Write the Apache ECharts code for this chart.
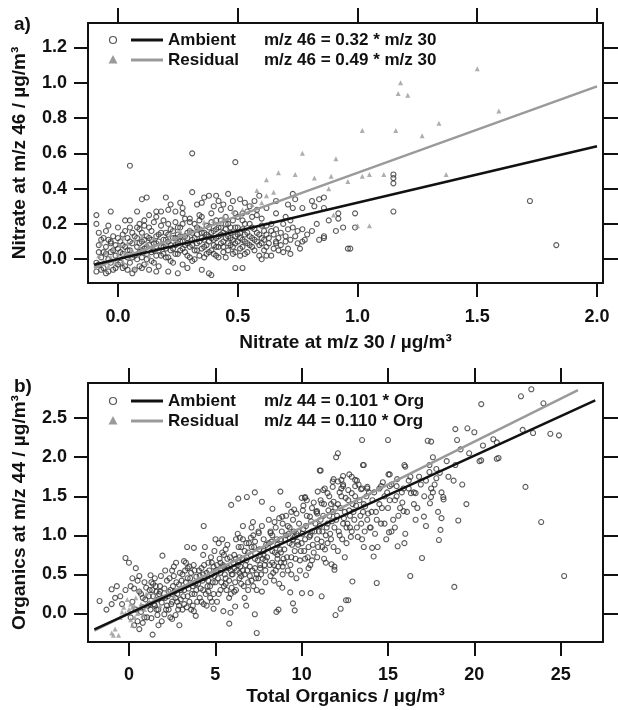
<!DOCTYPE html>
<html>
<head>
<meta charset="utf-8">
<script src="https://cdn.jsdelivr.net/npm/echarts@6/dist/echarts.min.js"></script>
<style>
  html, body { margin: 0; padding: 0; background: #fff; }
  #chart { width: 618px; height: 710px; }
</style>
</head>
<body>
<div id="chart"></div>
<script>
// ---- Panel a: nitrate signal at m/z 46 versus m/z 30 ----
const ambientA = [
  [-0.09,0.25],[-0.09,0.20],[-0.03,0.27],[-0.04,0.19],[0.05,0.53],[0.10,0.34],[0.12,0.35],[0.20,0.35],
  [0.31,0.38],[0.36,0.35],[0.38,0.36],[0.41,0.36],[0.46,0.37],[0.35,0.32],[0.26,0.32],[0.18,0.27],
  [0.16,0.27],[0.21,0.28],[0.24,0.27],[0.27,0.26],[0.11,0.22],[0.09,0.20],[0.03,0.22],[0.05,0.18],
  [0.00,0.18],[-0.05,0.16],[-0.07,0.11],[-0.03,0.09],[-0.08,0.04],[-0.09,-0.02],[-0.04,-0.07],[-0.01,-0.05],
  [0.04,-0.06],[0.10,-0.05],[0.16,-0.07],[0.21,-0.07],[0.25,-0.08],[0.29,-0.05],[0.35,-0.06],[0.39,-0.09],
  [0.52,-0.05],[0.51,0.34],[0.53,0.32],[0.59,0.36],[0.43,0.28],[0.47,0.29],[0.39,0.26],[0.34,0.25],
  [0.30,0.23],[0.41,0.22],[0.45,0.24],[0.49,0.26],[0.52,0.22],[0.56,0.24],[0.60,0.23],[0.62,0.19],
  [0.64,0.16],[0.61,0.11],[0.66,0.10],[0.67,0.05],[0.64,0.02],[0.60,0.00],[0.71,0.06],[0.75,0.09],
  [0.78,0.11],[0.81,0.16],[0.75,0.16],[0.73,0.18],[0.73,0.37],[0.71,0.31],[0.73,0.29],[0.74,0.34],
  [0.81,0.33],[0.84,0.34],[0.86,0.35],[0.84,0.11],[0.86,0.12],[0.91,0.16],[0.92,0.26],[0.96,0.06],
  [0.99,0.18],[0.66,0.33],[0.77,0.29],[0.82,0.30],[0.86,0.29],[0.92,0.23],[0.94,0.18],[0.99,0.26],
  [0.72,0.22],[0.77,0.17],[0.86,0.13],[0.77,0.10],[0.72,0.11],[0.66,0.09],[0.62,0.02],[0.52,0.07],
  [0.97,0.06],[1.15,0.27],[1.15,0.43],[1.15,0.48],[1.15,0.46],[1.72,0.33],[1.83,0.08],[0.31,0.60],
  [0.49,0.55],[0.49,-0.05],[0.38,-0.08],
  [-0.09,-0.07],[-0.08,-0.03],[-0.07,0.01],[-0.06,-0.05],[-0.05,0.03],[-0.05,0.07],[-0.04,0.00],[-0.03,-0.02],
  [-0.02,0.05],[-0.02,0.13],[-0.01,0.02],[-0.06,0.12],[-0.08,0.08],[-0.03,0.10],
  [0.00,0.06],[0.01,-0.02],[0.01,0.10],[0.02,0.03],[0.02,0.14],[0.03,-0.04],[0.03,0.07],[0.04,0.01],
  [0.04,0.12],[0.05,0.05],[0.05,-0.02],[0.06,0.09],[0.06,0.15],[0.07,0.02],[0.07,-0.06],[0.08,0.07],
  [0.08,0.12],[0.09,0.04],[0.09,0.17],[0.10,0.01],[0.10,0.10],
  [0.11,0.06],[0.11,-0.03],[0.12,0.13],[0.12,0.03],[0.13,0.18],[0.13,0.08],[0.14,-0.01],[0.14,0.11],
  [0.15,0.05],[0.15,0.21],[0.16,0.09],[0.16,0.02],[0.17,0.14],[0.17,-0.04],[0.18,0.07],[0.18,0.19],
  [0.19,0.11],[0.19,0.03],[0.20,0.15],[0.20,0.06],
  [0.21,0.10],[0.21,0.01],[0.22,0.17],[0.22,0.05],[0.23,0.12],[0.23,-0.02],[0.24,0.08],[0.24,0.21],
  [0.25,0.14],[0.25,0.03],[0.26,0.10],[0.26,0.18],[0.27,0.06],[0.27,-0.03],[0.28,0.13],[0.28,0.23],
  [0.29,0.09],[0.29,0.02],[0.30,0.16],[0.30,0.07],
  [0.31,0.11],[0.31,-0.01],[0.32,0.20],[0.32,0.05],[0.33,0.14],[0.33,0.09],[0.34,0.02],[0.34,0.17],
  [0.35,0.12],[0.35,0.24],[0.36,0.07],[0.36,0.15],[0.37,0.03],[0.37,0.19],[0.38,0.10],[0.38,0.13],
  [0.39,0.05],[0.39,0.21],[0.40,0.16],[0.40,0.08],
  [0.41,0.12],[0.41,0.02],[0.42,0.18],[0.42,0.07],[0.43,0.14],[0.43,0.22],[0.44,0.04],[0.44,0.10],
  [0.45,0.17],[0.45,0.01],[0.46,0.13],[0.46,0.20],[0.47,0.08],[0.47,0.15],[0.48,0.11],[0.48,0.03],
  [0.49,0.18],[0.49,0.09],[0.50,0.14],[0.50,0.24],
  [0.51,0.06],[0.51,0.12],[0.52,0.17],[0.53,0.10],[0.53,0.03],[0.54,0.15],[0.55,0.08],[0.55,0.20],
  [0.56,0.12],[0.57,0.05],[0.57,0.17],[0.58,0.10],[0.59,0.14],[0.59,0.02],[0.60,0.09],[0.61,0.16],
  [0.62,0.07],[0.63,0.12],[0.65,0.14],[0.68,0.08],[0.70,0.13],[0.69,0.20],
  [0.55,0.30],[0.57,0.33],[0.54,0.27],[0.48,0.33],[0.44,0.31],[0.40,0.30],
  [-0.08,0.15],[-0.07,-0.06],[-0.06,0.04],[-0.05,-0.08],[-0.04,0.11],[-0.03,0.04],[-0.02,-0.06],[-0.01,0.08],
  [0.00,-0.03],[0.00,0.12],[0.01,0.04],[0.02,0.08],[0.02,-0.05],[0.03,0.16],[0.04,0.05],[0.05,0.10],
  [0.05,0.22],[0.06,0.01],[0.06,-0.08],[0.07,0.13],[0.08,0.00],[0.08,0.18],[0.09,0.09],[0.09,-0.04],
  [0.10,0.15],[0.10,0.05],[0.11,0.11],[0.11,0.19],[0.12,0.00],[0.12,0.07],[0.13,0.12],[0.13,-0.06],
  [0.14,0.16],[0.14,0.04],[0.15,0.09],[0.15,-0.02],[0.16,0.13],[0.16,0.24],[0.17,0.05],[0.17,0.10],
  [0.18,0.02],[0.18,0.15],[0.19,0.07],[0.19,0.22],[0.20,0.11],[0.20,0.01],[0.21,0.14],[0.21,0.20],
  [0.22,0.08],[0.22,-0.01],[0.23,0.16],[0.23,0.06],[0.24,0.12],[0.24,0.03],[0.25,0.18],[0.25,0.09],
  [0.26,0.05],[0.26,0.13],[0.27,0.10],[0.27,0.20],[0.28,0.04],[0.28,0.08],[0.29,0.15],[0.29,0.12],
  [0.30,0.01],[0.30,0.21],[0.31,0.08],[0.31,0.15],[0.32,0.12],[0.32,0.00],[0.33,0.18],[0.33,0.05],
  [0.34,0.10],[0.34,0.22],[0.35,0.06],[0.35,0.15],[0.36,0.11],[0.36,0.01],[0.37,0.14],[0.37,0.08],
  [0.38,0.18],[0.38,0.04],[0.39,0.12],[0.39,0.15],[0.40,0.03],[0.40,0.11],[0.41,0.17],[0.41,0.07],
  [0.42,0.13],[0.42,0.01],[0.43,0.09],[0.43,0.18],[0.44,0.15],[0.44,0.07],[0.45,0.12],[0.45,0.20],
  [0.46,0.05],[0.46,0.09],[0.47,0.18],[0.47,0.12],[0.48,0.07],[0.48,0.22],[0.49,0.13],[0.49,0.04],
  [0.50,0.10],[0.50,0.18],[0.51,0.15],[0.51,0.02],[0.52,0.11],[0.52,0.26],[0.53,0.14],[0.53,0.20],
  [0.54,0.09],[0.54,0.04],[0.55,0.13],[0.56,0.18],[0.56,0.07],[0.57,0.11],[0.58,0.15],[0.58,0.25],
  [0.59,0.08],[0.60,0.12],[0.60,0.19],[0.61,0.05],[0.62,0.14],[0.63,0.09],[0.64,0.20],[0.65,0.06],
  [0.66,0.17],[0.67,0.12],[0.68,0.15],[0.69,0.04],[0.70,0.10],[0.71,0.17],[0.72,0.03],[0.74,0.13],
  [0.76,0.06],[0.79,0.14],[0.83,0.20],[0.88,0.22],[0.27,0.29],[0.22,0.31],[0.13,0.25],[0.08,0.27],
  [0.33,0.31],[0.42,0.33],[0.58,0.28],[0.62,0.29],[0.66,0.26],[0.70,0.24]
];
const residualA = [
  [1.18,1.00],[1.17,0.94],[1.21,0.93],[1.50,1.08],[1.59,0.84],[1.02,0.73],[1.16,0.73],[1.27,0.70],
  [1.34,0.77],[0.77,0.60],[0.91,0.57],[0.62,0.45],[0.67,0.49],[0.74,0.48],[0.82,0.46],[0.89,0.47],
  [0.96,0.44],[1.02,0.47],[1.05,0.48],[1.11,0.48],[1.37,0.48],[1.00,0.19],[1.05,0.19],[0.90,0.25],
  [0.88,0.40],[0.58,0.39],
  [-0.09,-0.03],[-0.08,0.02],[-0.06,-0.01],[-0.05,0.04],[-0.04,-0.04],[-0.03,0.01],[-0.02,0.06],[-0.01,-0.02],
  [0.00,0.03],[0.01,0.08],[0.02,-0.01],[0.03,0.04],[0.04,0.09],[0.05,0.01],[0.06,0.05],[0.07,0.11],
  [0.08,0.03],[0.09,0.07],[0.10,0.13],[0.11,0.04],[0.12,0.09],[0.13,0.02],[0.14,0.07],[0.15,0.12],
  [0.16,0.05],[0.18,0.10],[0.20,0.08],[0.22,0.14],[0.24,0.11],[0.26,0.16],[0.28,0.13],[0.30,0.17],
  [0.33,0.19],[0.36,0.21],[0.40,0.22],[0.44,0.24],[0.48,0.27],[0.52,0.28],[0.56,0.31],[0.60,0.32],
  [0.62,0.36],[0.65,0.38],[0.07,-0.05],[0.12,-0.02],[-0.07,0.09],[0.02,0.12]
];
const slopeAmbientA = 0.32;
const slopeResidualA = 0.49;
const fitRangeA = [-0.1, 2.0];
const xTicksA = [0, 0.5, 1.0, 1.5, 2.0];
const yTicksA = [0, 0.2, 0.4, 0.6, 0.8, 1.0, 1.2];

// ---- Panel b: organics signal at m/z 44 versus total organics ----
const ambientB = [
  [22.96,1.62],[23.87,1.17],[25.2,0.48],[18.84,0.34],[19.54,1.40],[19.07,1.19],[21.3,1.98],[20.3,1.95],
  [18.22,1.46],[18.1,1.22],[17.49,1.49],[17.43,1.41],[18.04,1.07],[17.95,0.94],[17.2,1.12],[17.08,1.24],
  [16.97,0.71],[16.29,0.48],[16.33,1.54],[15.83,1.42],[15.9,1.31],[15.95,1.90],[15.53,1.72],[15.03,1.78],
  [15.56,0.86],[15.95,0.90],[15.2,1.05],[15.06,1.04],[14.35,0.39],[14.17,0.73],[14.08,0.84],[14.0,1.10],
  [13.67,1.37],[13.55,1.90],[12.94,0.41],[12.57,0.17],[12.7,0.17],[11.96,-0.02],[12.26,0.06],[12.0,2.0],
  [11.73,0.63],[11.9,0.56],[11.16,0.22],[10.52,0.26],[10.25,0.49],[10.02,0.26],[9.5,0.13],[9.6,0.04],
  [9.34,0.27],[8.88,0.33],[8.66,0.05],[8.54,0.02],[7.4,-0.25],[7.29,-0.01],[6.15,0.09],[6.79,0.10],
  [5.88,0.01],[5.81,-0.13],[5.47,0.03],[4.9,0.06],[4.33,0.12],[3.87,-0.03],[3.76,0.03],[2.92,-0.15],
  [2.5,-0.07],[1.71,-0.15],[1.37,-0.27],[2.05,-0.01],[0.8,-0.12],
  [5.92,1.39],[6.33,1.47],[6.83,1.49],[7.29,1.55],[7.7,1.43],[8.77,1.56],[8.31,1.34],[9.22,1.39],
  [10.0,1.48],[10.2,1.48],[10.07,1.32],[10.93,1.56],[11.05,1.83],[11.34,1.60],[11.5,1.54],[11.85,1.72],
  [12.1,1.69],[12.4,1.76],[12.76,1.78],[13.1,1.63],[13.44,1.59],[12.3,1.50],[11.85,1.43],[11.16,1.41],
  [10.89,1.31],[10.48,1.24],[9.57,1.33],[8.88,1.24],[8.43,1.17],[8.2,1.03],[7.52,1.03],[7.18,1.17],
  [6.6,1.12],[6.42,0.97],[7.06,0.97],[5.01,0.95],[4.33,1.12],[3.76,0.84],[3.37,0.85],[3.19,0.67],
  [2.73,0.65],[1.94,0.74],
  [23.3,2.87],[22.7,2.78],[24.0,2.69],[20.4,2.68],[19.6,2.37],[20.0,2.32],[22.8,2.35],[23.4,2.31],
  [24.4,2.30],[24.9,2.28],[21.1,2.23],[20.5,2.15],[21.4,1.99],[20.4,1.96],[19.0,2.22],[17.5,2.20],
  [17.6,2.00],[16.0,1.88],[17.4,1.81],[17.8,1.73],[16.2,1.70],[15.1,1.78],[15.0,2.22],[13.5,2.22],
  [12.1,2.05],[13.6,1.90],[11.1,1.83],[10.2,1.49],[11.25,1.58],[11.8,1.69],[12.3,1.71],[12.9,1.75],
  [13.1,1.71],[11.8,1.62],[12.4,1.63],[12.7,1.58],[13.5,1.60],[13.8,1.60],[12.9,1.54],[15.1,1.63],
  [15.5,1.63],[14.6,1.63],[16.6,1.54],[18.2,1.49],[17.6,1.55],[17.3,2.21],[18.9,2.36],[21.3,2.19],
  [-1.0,0.31],[-0.7,0.35],[-1.7,0.16],[-1.0,0.12],[-0.5,0.22],[-0.2,0.71],[0.0,0.65],[0.4,0.58],
  [0.6,0.48],[1.25,0.49],
  [0.2,0.15],[0.4,0.05],[0.5,-0.10],[0.6,0.28],[0.7,0.02],[0.8,0.20],[0.9,-0.05],[0.3,0.32],[0.9,0.40],[0.1,-0.05],
  [1.1,0.10],[1.2,0.30],[1.3,-0.06],[1.4,0.22],[1.5,0.45],[1.6,0.05],[1.7,0.18],[1.8,0.35],[1.9,-0.10],
  [1.2,0.12],[1.6,0.28],[1.9,0.14],[1.4,0.38],[1.0,0.33],
  [2.1,0.20],[2.2,0.42],[2.3,0.05],[2.4,0.30],[2.5,0.15],[2.6,0.48],[2.7,-0.02],[2.8,0.25],[2.9,0.37],
  [2.2,0.10],[2.5,0.55],[2.9,0.10],[2.3,0.28],[2.7,0.20],
  [3.0,0.30],[3.1,0.50],[3.2,0.12],[3.3,0.40],[3.4,0.22],[3.5,0.60],[3.6,0.05],[3.7,0.35],[3.8,0.25],
  [3.9,0.47],[3.2,0.30],[3.5,0.15],[3.8,0.55],[3.4,0.45],[3.0,0.18],
  [4.0,0.38],[4.1,0.20],[4.2,0.58],[4.3,0.30],[4.4,0.45],[4.5,0.10],[4.6,0.65],[4.7,0.35],[4.8,0.50],
  [4.9,0.25],[4.3,0.75],[4.5,0.52],[4.8,0.15],[4.1,0.48],[4.6,0.42],[4.9,0.60],
  [5.0,0.40],[5.1,0.62],[5.2,0.25],[5.3,0.52],[5.4,0.78],[5.5,0.35],[5.6,0.45],[5.7,0.70],[5.8,0.20],
  [5.9,0.55],[5.2,0.90],[5.5,0.60],[5.8,0.42],[5.3,0.30],[5.6,0.82],[5.95,0.33],
  [6.0,0.50],[6.1,0.75],[6.2,0.30],[6.3,0.62],[6.4,0.45],[6.5,0.85],[6.6,0.55],[6.7,0.20],[6.8,0.68],
  [6.9,0.40],[6.2,0.95],[6.5,0.38],[6.8,0.90],[6.4,0.72],[6.1,0.58],[6.7,0.50],[6.9,0.78],
  [7.0,0.60],[7.1,0.85],[7.2,0.35],[7.3,0.70],[7.4,0.50],[7.5,1.05],[7.6,0.62],[7.7,0.28],[7.8,0.80],
  [7.9,0.55],[7.2,1.00],[7.5,0.45],[7.8,0.95],[7.3,0.58],[7.6,0.75],[7.9,0.68],[7.1,0.42],
  [8.0,0.72],[8.1,0.90],[8.2,0.48],[8.3,0.80],[8.4,0.62],[8.5,1.10],[8.6,0.70],[8.7,0.38],[8.8,0.95],
  [8.9,0.60],[8.2,1.05],[8.5,0.55],[8.8,0.78],[8.3,0.65],[8.6,0.88],[8.9,1.15],
  [9.0,0.82],[9.1,1.00],[9.2,0.55],[9.3,0.90],[9.4,0.72],[9.5,1.20],[9.6,0.80],[9.7,0.45],[9.8,1.05],
  [9.9,0.68],[9.2,1.12],[9.5,0.95],[9.8,0.88],[9.4,1.30],[9.7,1.02],
  [10.0,0.90],[10.1,1.08],[10.2,0.70],[10.3,1.25],[10.4,0.85],[10.5,1.00],[10.6,1.35],[10.7,0.78],
  [10.8,1.15],[10.9,0.95],[10.3,1.45],[10.6,1.05],[10.9,1.28],[10.5,0.62],
  [11.0,1.05],[11.1,1.20],[11.2,0.85],[11.3,1.40],[11.4,1.00],[11.5,1.15],[11.6,1.50],[11.7,0.95],
  [11.8,1.30],[11.9,1.10],[11.3,0.70],[11.6,1.25],[11.9,0.60],
  [12.0,1.20],[12.1,1.40],[12.2,1.00],[12.3,1.60],[12.4,1.15],[12.5,1.30],[12.6,0.90],[12.7,1.45],
  [12.8,1.25],[12.9,1.05],[12.2,1.55],[12.6,1.10],
  [13.0,1.30],[13.1,1.50],[13.2,1.10],[13.3,1.65],[13.4,1.25],[13.6,1.40],[13.8,1.20],[13.9,1.55],[13.5,0.95],
  [14.1,1.45],[14.3,1.30],[14.5,1.60],[14.6,1.15],[14.8,1.50],[15.0,1.35],[15.2,1.65],[15.4,1.45],
  [15.6,1.25],[15.8,1.55],[14.4,0.85],
  [16.2,1.60],[16.5,1.40],[16.8,1.75],[17.1,1.50],[17.4,1.90],[17.7,1.65],[18.0,1.80],[18.4,1.95],
  [18.8,1.70],[16.6,1.20],
  [-1.3,0.05],[-0.8,0.20],[-0.4,0.12],[-0.2,0.30],[0.1,0.35],[0.3,-0.15],[0.5,0.42],[0.7,0.25],
  [0.8,0.08],[0.95,0.18],[0.2,0.45],[0.6,-0.20],
  [1.05,-0.05],[1.15,0.22],[1.25,0.05],[1.35,0.30],[1.45,0.12],[1.55,0.35],[1.65,-0.02],[1.75,0.25],
  [1.85,0.48],[1.95,0.20],[1.3,0.40],[1.7,0.05],[1.5,0.10],[1.8,0.28],
  [2.05,0.32],[2.15,0.05],[2.25,0.22],[2.35,0.45],[2.45,0.12],[2.55,0.35],[2.65,0.28],[2.75,0.40],
  [2.85,0.05],[2.95,0.52],[2.4,-0.05],[2.6,0.60],[2.8,0.15],[2.1,0.55],[2.5,0.25],
  [3.05,0.42],[3.15,0.22],[3.25,0.55],[3.35,0.08],[3.45,0.32],[3.55,0.45],[3.65,0.25],[3.75,0.62],
  [3.85,0.38],[3.95,0.15],[3.1,0.05],[3.3,0.65],[3.6,0.52],[3.9,0.30],[3.4,0.58],[3.7,0.10],
  [4.05,0.55],[4.15,0.32],[4.25,0.42],[4.35,0.62],[4.45,0.25],[4.55,0.35],[4.65,0.55],[4.75,0.72],
  [4.85,0.40],[4.95,0.48],[4.2,0.15],[4.4,0.85],[4.6,0.28],[4.8,0.65],[4.3,0.50],[4.7,0.20],[4.95,0.80],
  [5.05,0.55],[5.15,0.45],[5.25,0.70],[5.35,0.40],[5.45,0.62],[5.55,0.50],[5.65,0.30],[5.75,0.58],
  [5.85,0.72],[5.95,0.50],[5.1,0.15],[5.4,0.95],[5.7,0.88],[5.9,0.25],[5.3,0.65],[5.6,0.38],[5.5,0.75],
  [6.05,0.65],[6.15,0.40],[6.25,0.55],[6.35,0.85],[6.45,0.60],[6.55,0.70],[6.65,0.35],[6.75,0.62],
  [6.85,0.55],[6.95,0.90],[6.1,0.28],[6.3,1.02],[6.6,0.95],[6.9,0.30],[6.4,0.52],[6.7,0.80],[6.2,0.70],[6.5,0.48],
  [7.05,0.75],[7.15,0.55],[7.25,0.85],[7.35,0.45],[7.45,0.68],[7.55,0.82],[7.65,0.50],[7.75,0.70],
  [7.85,0.62],[7.95,0.88],[7.1,1.10],[7.4,0.30],[7.7,1.12],[7.9,0.40],[7.3,0.92],[7.6,0.58],[7.8,0.75],[7.0,0.48],
  [8.05,0.85],[8.15,0.62],[8.25,0.92],[8.35,0.52],[8.45,0.78],[8.55,0.95],[8.65,0.60],[8.75,0.82],
  [8.85,1.05],[8.95,0.70],[8.1,1.20],[8.4,0.42],[8.7,1.22],[8.9,0.50],[8.3,1.00],[8.6,0.75],[8.8,0.65],
  [9.05,0.95],[9.15,0.72],[9.25,1.02],[9.35,0.62],[9.45,0.88],[9.55,1.05],[9.65,0.70],[9.75,0.92],
  [9.85,1.15],[9.95,0.80],[9.1,1.25],[9.4,0.50],[9.7,1.28],[9.9,0.55],[9.3,1.10],[9.6,0.98],[9.0,0.65],
  [10.05,1.02],[10.15,0.80],[10.25,1.12],[10.35,0.72],[10.45,0.98],[10.55,1.18],[10.65,0.88],[10.75,1.05],
  [10.85,1.30],[10.95,0.85],[10.1,1.38],[10.4,0.58],[10.7,1.42],[10.9,0.72],[10.2,0.95],[10.6,0.68],
  [11.05,1.12],[11.15,0.92],[11.25,1.25],[11.35,0.82],[11.45,1.10],[11.55,1.32],[11.65,1.02],[11.75,1.18],
  [11.85,0.85],[11.95,1.35],[11.1,1.45],[11.4,0.65],[11.7,1.40],[11.2,1.05],[11.5,0.90],
  [12.05,1.25],[12.15,1.05],[12.25,1.35],[12.35,0.95],[12.45,1.22],[12.55,1.48],[12.65,1.15],[12.75,1.32],
  [12.85,0.98],[12.95,1.40],[12.1,0.80],[12.4,1.65],[12.8,1.10],[12.5,0.72],
  [13.05,1.20],[13.15,1.38],[13.25,0.98],[13.35,1.45],[13.45,1.15],[13.55,1.30],[13.65,1.05],[13.75,1.50],
  [13.85,1.28],[13.95,1.10],[13.2,1.70],[13.6,0.85],[13.8,1.62],
  [14.05,1.30],[14.2,1.55],[14.35,1.20],[14.5,1.40],[14.65,1.35],[14.8,1.15],[14.95,1.55],[14.25,1.02],
  [14.7,1.68],[14.9,0.95],
  [15.1,1.45],[15.3,1.20],[15.5,1.50],[15.7,1.35],[15.9,1.60],[16.1,1.30],[16.3,1.75],[16.5,1.55],
  [16.7,1.35],[16.9,1.65],[15.4,1.10],[16.0,1.02],
  [17.2,1.70],[17.5,1.60],[17.8,1.85],[18.1,1.55],[18.5,1.75],[18.9,1.90],[19.3,1.65],[19.7,2.05],
  [17.9,1.30],[19.2,2.10]
];
const residualB = [
  [-0.5,-0.05],[-0.2,0.00],[0.0,0.05],[0.1,-0.08],[0.3,0.10],[0.5,0.00],[0.2,-0.15],[-0.3,0.08],
  [0.7,0.12],[0.9,0.05],[1.2,0.15],[1.5,0.20],[1.8,0.10],[2.2,0.30],[2.6,0.22],[3.0,0.35],
  [-1.0,-0.25],[-0.8,-0.20],[-0.6,-0.28],[0.4,0.20],[0.6,0.30],[-0.1,0.18],[1.0,0.25],[4.0,0.45],
  [5.0,0.55],[-0.9,-0.28],[0.2,0.08],[0.8,-0.02],[-0.4,0.02],[0.1,0.12],[0.35,-0.05],[0.65,0.06]
];
const slopeAmbientB = 0.101;
const slopeResidualB = 0.110;
const fitRangeAmbientB = [-2, 27];
const fitRangeResidualB = [-2, 26];
const xTicksB = [0, 5, 10, 15, 20, 25];
const yTicksB = [0, 0.5, 1.0, 1.5, 2.0, 2.5];

// ---- styling ----
const FONT = "'Liberation Sans', Arial, sans-serif";
const GREY = '#9a9a9a';
const INK = '#111';
const RING = '#333';

function fitLine(slope, range) {
  return range.map(x => [x, slope * x]);
}

function frameAxis(extra) {
  return Object.assign({
    type: 'value',
    axisLine: { show: true, onZero: false, lineStyle: { color: INK, width: 2 } },
    axisTick: { show: true, inside: false, length: 14, lineStyle: { color: INK, width: 2 } },
    axisLabel: { show: false },
    splitLine: { show: false }
  }, extra);
}

function labelStyle(values, fmt, margin) {
  return {
    show: true, customValues: values, formatter: fmt, margin: margin,
    color: INK, fontFamily: FONT, fontWeight: 'bold', fontSize: 18
  };
}

const nameStyle = { color: INK, fontFamily: FONT, fontWeight: 'bold', fontSize: 19 };

const chart = echarts.init(document.getElementById('chart'), null, { renderer: 'canvas' });

const legendText = (x, y, txt) => ({
  type: 'text', x: x, y: y,
  style: { text: txt, fill: INK, font: "bold 17px " + FONT, textVerticalAlign: 'middle' }
});

function legendBlock(y1, y2, ambientEq, residualEq) {
  return [
    { type: 'circle', shape: { cx: 113, cy: y1, r: 3.5 }, style: { fill: 'none', stroke: '#555', lineWidth: 1.2 } },
    { type: 'line', shape: { x1: 131, y1: y1, x2: 163, y2: y1 }, style: { stroke: INK, lineWidth: 3 } },
    legendText(168, y1, 'Ambient'),
    legendText(264, y1, ambientEq),
    { type: 'polygon', shape: { points: [[113, y2 - 5], [108.5, y2 + 3.5], [117.5, y2 + 3.5]] }, style: { fill: GREY } },
    { type: 'line', shape: { x1: 131, y1: y2, x2: 163, y2: y2 }, style: { stroke: GREY, lineWidth: 3 } },
    legendText(168, y2, 'Residual'),
    legendText(264, y2, residualEq)
  ];
}

const option = {
  backgroundColor: '#fff',
  animation: false,
  grid: [
    { left: 88, right: 15, top: 23, height: 260 },
    { left: 88, right: 15, top: 383, height: 259 }
  ],
  xAxis: [
    frameAxis({
      gridIndex: 0, position: 'bottom', min: -0.125, max: 2.025,
      axisTick: { show: true, length: 14, customValues: xTicksA, lineStyle: { color: INK, width: 2 } },
      axisLabel: labelStyle(xTicksA, v => v.toFixed(1), 25),
      name: 'Nitrate at m/z 30 / µg/m³', nameLocation: 'middle', nameGap: 50, nameTextStyle: nameStyle
    }),
    frameAxis({
      gridIndex: 0, position: 'top', min: -0.125, max: 2.025,
      axisTick: { show: true, length: 15, customValues: xTicksA, lineStyle: { color: INK, width: 2 } }
    }),
    frameAxis({
      gridIndex: 1, position: 'bottom', min: -2.37, max: 27.45,
      axisTick: { show: true, length: 14, customValues: xTicksB, lineStyle: { color: INK, width: 2 } },
      axisLabel: labelStyle(xTicksB, v => String(v), 24),
      name: 'Total Organics / µg/m³', nameLocation: 'middle', nameGap: 45, nameTextStyle: nameStyle
    }),
    frameAxis({
      gridIndex: 1, position: 'top', min: -2.37, max: 27.45,
      axisTick: { show: true, length: 15, customValues: xTicksB, lineStyle: { color: INK, width: 2 } }
    })
  ],
  yAxis: [
    frameAxis({
      gridIndex: 0, position: 'left', min: -0.135, max: 1.339,
      axisTick: { show: true, length: 14, customValues: yTicksA, lineStyle: { color: INK, width: 2 } },
      axisLabel: labelStyle(yTicksA, v => v.toFixed(1), 21),
      name: 'Nitrate at m/z 46 / µg/m³', nameLocation: 'middle', nameGap: 59, nameTextStyle: nameStyle
    }),
    frameAxis({
      gridIndex: 0, position: 'right', min: -0.135, max: 1.339,
      axisTick: { show: true, length: 15, customValues: yTicksA, lineStyle: { color: INK, width: 2 } }
    }),
    frameAxis({
      gridIndex: 1, position: 'left', min: -0.365, max: 2.95,
      axisTick: { show: true, length: 14, customValues: yTicksB, lineStyle: { color: INK, width: 2 } },
      axisLabel: labelStyle(yTicksB, v => v.toFixed(1), 21),
      name: 'Organics at m/z 44 / µg/m³', nameLocation: 'middle', nameGap: 59, nameTextStyle: nameStyle
    }),
    frameAxis({
      gridIndex: 1, position: 'right', min: -0.365, max: 2.95,
      axisTick: { show: true, length: 15, customValues: yTicksB, lineStyle: { color: INK, width: 2 } }
    })
  ],
  series: [
    {
      name: 'Ambient', type: 'scatter', xAxisIndex: 0, yAxisIndex: 0, data: ambientA,
      symbol: 'circle', symbolSize: 5,
      itemStyle: { color: 'rgba(0,0,0,0)', borderColor: RING, borderWidth: 1.1 }
    },
    {
      name: 'Residual', type: 'scatter', xAxisIndex: 0, yAxisIndex: 0, data: residualA,
      symbol: 'triangle', symbolSize: 5, itemStyle: { color: GREY }
    },
    {
      name: 'Residual fit', type: 'line', xAxisIndex: 0, yAxisIndex: 0,
      data: fitLine(slopeResidualA, fitRangeA), showSymbol: false,
      lineStyle: { color: GREY, width: 2.5 }
    },
    {
      name: 'Ambient fit', type: 'line', xAxisIndex: 0, yAxisIndex: 0,
      data: fitLine(slopeAmbientA, fitRangeA), showSymbol: false,
      lineStyle: { color: INK, width: 2.5 }
    },
    {
      name: 'Ambient', type: 'scatter', xAxisIndex: 2, yAxisIndex: 2, data: ambientB,
      symbol: 'circle', symbolSize: 5,
      itemStyle: { color: 'rgba(0,0,0,0)', borderColor: RING, borderWidth: 1.1 }
    },
    {
      name: 'Residual', type: 'scatter', xAxisIndex: 2, yAxisIndex: 2, data: residualB,
      symbol: 'triangle', symbolSize: 5, itemStyle: { color: GREY }
    },
    {
      name: 'Residual fit', type: 'line', xAxisIndex: 2, yAxisIndex: 2,
      data: fitLine(slopeResidualB, fitRangeResidualB), showSymbol: false,
      lineStyle: { color: GREY, width: 2.5 }
    },
    {
      name: 'Ambient fit', type: 'line', xAxisIndex: 2, yAxisIndex: 2,
      data: fitLine(slopeAmbientB, fitRangeAmbientB), showSymbol: false,
      lineStyle: { color: INK, width: 2.5 }
    }
  ],
  graphic: [
    { type: 'text', x: 14, y: 25, style: { text: 'a)', fill: INK, font: 'bold 19px ' + FONT, textVerticalAlign: 'middle' } },
    { type: 'text', x: 14, y: 387, style: { text: 'b)', fill: INK, font: 'bold 19px ' + FONT, textVerticalAlign: 'middle' } }
  ]
    .concat(legendBlock(40, 60,
      'm/z 46 = ' + slopeAmbientA.toFixed(2) + ' * m/z 30',
      'm/z 46 = ' + slopeResidualA.toFixed(2) + ' * m/z 30'))
    .concat(legendBlock(401, 421,
      'm/z 44 = ' + slopeAmbientB.toFixed(3) + ' * Org',
      'm/z 44 = ' + slopeResidualB.toFixed(3) + ' * Org'))
};

chart.setOption(option);
</script>
</body>
</html>
